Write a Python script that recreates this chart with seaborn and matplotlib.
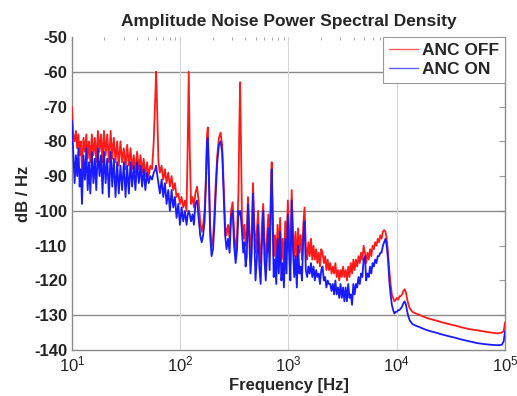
import numpy as np
import pandas as pd
import matplotlib
matplotlib.use("Agg")
import matplotlib.pyplot as plt
import seaborn as sns
from matplotlib.ticker import LogLocator, FixedLocator

# Frequency grid shared by both measurements (Hz)
freq_hz = [
    10.0, 10.3, 10.6, 10.9, 11.2, 11.5, 11.8, 12.1, 12.4, 12.8,
    13.2, 13.6, 14.0, 14.4, 14.8, 15.3, 15.8, 16.3, 16.8, 17.4,
    18.0, 18.6, 19.2, 19.8, 20.5, 21.2, 22.0, 22.8, 23.6, 24.4,
    25.3, 26.2, 27.1, 28.1, 29.1, 30.2, 31.3, 32.4, 33.6, 34.8,
    36.0, 37.3, 38.6, 40.0, 41.5, 43.0, 44.5, 46.0, 47.7, 49.4,
    51.2, 53.0, 55.0, 57.0, 59.0, 60.0, 61.0, 63.0, 65.0, 67.4,
    69.8, 72.3, 74.9, 77.6, 80.4, 83.3, 86.3, 89.4, 92.6, 96.0,
    99.5, 103.0, 106.7, 110.5, 114.5, 117.5, 120.0, 122.5, 126.0, 130.0,
    134.0, 138.0, 143.0, 148.0, 153.0, 158.0, 163.0, 168.0, 173.0, 177.0,
    180.0, 184.0, 189.0, 195.0, 201.0, 207.0, 213.0, 220.0, 228.0, 236.0,
    244.0, 252.0, 260.0, 268.0, 277.0, 286.0, 295.0, 305.0, 315.0, 325.0,
    335.0, 345.0, 352.0, 358.0, 364.0, 372.0, 382.0, 392.0, 402.0, 412.0,
    423.0, 434.0, 446.0, 458.0, 470.0, 483.0, 496.0, 510.0, 524.0, 538.0,
    553.0, 568.0, 584.0, 600.0, 617.0, 634.0, 652.0, 670.0, 688.0, 700.0,
    712.0, 730.0, 750.0, 771.0, 792.0, 814.0, 837.0, 860.0, 884.0, 908.0,
    933.0, 959.0, 986.0, 1013, 1041, 1070, 1100, 1130, 1162, 1194,
    1227, 1261, 1296, 1332, 1369, 1407, 1446, 1486, 1527, 1569,
    1613, 1657, 1703, 1750, 1799, 1849, 1900, 1953, 2007, 2063,
    2120, 2178, 2238, 2300, 2364, 2430, 2497, 2566, 2637, 2710,
    2785, 2862, 2941, 3023, 3106, 3192, 3281, 3371, 3465, 3560,
    3659, 3760, 3864, 3971, 4081, 4194, 4310, 4429, 4552, 4678,
    4807, 4940, 5077, 5217, 5361, 5510, 5662, 5818, 5979, 6145,
    6315, 6489, 6669, 6853, 7043, 7237, 7438, 7643, 7855, 8072,
    8295, 8525, 8760, 9002, 9251, 9507, 9770, 10040, 10318, 10603,
    10896, 11197, 11507, 11825, 12152, 12488, 12833, 13188, 13553, 13928,
    15000, 16500, 18000, 20000, 23000, 26000, 30000, 35000, 40000, 47000,
    55000, 65000, 75000, 85000, 93000, 97000, 100000,
]

# Amplitude noise PSD with active noise cancellation switched off (dB/Hz)
psd_anc_off = [
    -70, -78, -80, -77, -82, -78, -84, -80, -88, -79,
    -83, -78, -85, -80, -86, -78, -84, -79, -86, -77,
    -83, -78, -86, -77, -84, -78, -86, -77, -85, -79,
    -86, -80, -87, -80, -86, -82, -88, -81, -87, -82,
    -88, -84, -89, -83, -88, -84, -89, -85, -90, -86,
    -90, -87, -88, -80, -66, -60, -68, -86, -89, -87,
    -91, -88, -92, -89, -93, -90, -94, -92, -96, -95,
    -98, -96, -99, -97, -100, -80, -60, -82, -98, -96,
    -99, -95, -93, -97, -103, -106, -104, -100, -90, -78,
    -76, -88, -104, -110, -108, -101, -92, -84, -79, -77.5,
    -81, -92, -104, -107, -104, -108, -100, -97.5, -106, -112,
    -107, -95, -75, -63, -80, -102, -108, -104, -110, -106,
    -96, -104, -113, -106, -92, -103, -112, -106, -100, -110,
    -115, -104, -98, -108, -116, -107, -101, -112, -94, -86,
    -97, -113, -107, -116, -104, -112, -102, -114, -108, -117,
    -103, -111, -97, -106, -115, -94, -105, -113, -106, -116,
    -105, -112, -107, -114, -104, -99, -110, -114, -109, -113,
    -108, -114, -110, -114, -111, -115, -112, -116, -111, -112,
    -115, -113, -117, -114, -117, -115, -118, -116, -118, -115,
    -119, -117, -120, -117, -119, -116, -119, -117, -120, -116,
    -119, -115, -118, -114, -117, -114, -116, -113, -115, -112,
    -114, -110, -112, -115, -112, -114, -111, -113, -110, -111,
    -109, -110, -108, -109, -107, -108, -106, -105.5, -106, -108,
    -112, -117, -121, -124, -125, -126, -125.5, -125, -125.5, -124.5,
    -124.5, -124, -123, -122.5, -123.5, -125.5, -127, -128, -128.5, -129,
    -129.5, -130, -130.5, -131, -131.5, -132, -132.5, -133, -133.5, -134,
    -134.3, -134.7, -135, -135.2, -135, -134.5, -132,
]

# Amplitude noise PSD with active noise cancellation switched on (dB/Hz)
psd_anc_on = [
    -74, -83, -92, -84, -90, -82, -93, -88, -98, -84,
    -91, -82, -94, -86, -95, -83, -92, -85, -94, -82,
    -90, -84, -95, -83, -92, -85, -96, -83, -93, -85,
    -96, -86, -95, -87, -94, -86, -96, -87, -95, -86,
    -93, -87, -94, -86, -92, -87, -93, -88, -94, -89,
    -92, -90, -91, -89, -88, -87, -89, -92, -95, -91,
    -96, -92, -98, -94, -100, -94, -99, -96, -102, -98,
    -104, -99, -103, -100, -104, -101, -100, -101, -103, -101,
    -104, -98, -97, -102, -107, -109, -107, -103, -92, -80,
    -79, -90, -107, -113, -111, -104, -95, -86, -81, -80,
    -83, -95, -107, -111, -108, -112, -102, -100, -110, -115,
    -111, -100, -101, -100, -102, -106, -112, -109, -116, -113,
    -98, -108, -118, -112, -95, -107, -120, -114, -104, -116,
    -121, -110, -100, -114, -120, -112, -105, -117, -97, -88,
    -101, -119, -114, -121, -108, -118, -106, -120, -115, -122,
    -108, -118, -101, -112, -120, -97, -111, -119, -113, -122,
    -110, -118, -116, -120, -108, -103, -117, -119, -116, -118,
    -115, -119, -116, -120, -117, -119, -118, -121, -117, -116,
    -120, -119, -122, -120, -121, -121, -123, -121, -124, -120,
    -124, -122, -125, -121, -125, -122, -126, -122, -126, -121,
    -125, -124, -127, -121, -124, -121, -122, -119, -121, -118,
    -119, -114, -113, -120, -118, -119, -116, -118, -115, -116,
    -114, -115, -113, -113, -112, -112, -110, -109, -108, -110,
    -114, -120, -124, -127, -128.5, -129.5, -129, -129, -128.5, -128.5,
    -128, -127.5, -126.5, -126, -127, -129, -130.5, -131.5, -132, -132.5,
    -133, -133.5, -134, -134.5, -135, -135.5, -136, -136.5, -137, -137.5,
    -138, -138.3, -138.5, -138.6, -138.5, -137.5, -134.5,
]

series_labels = ["ANC OFF", "ANC ON"]
series_colors = ["#ff1a1a", "#1a1aff"]
y_ticks = [-50, -60, -70, -80, -90, -100, -110, -120, -130, -140]
reference_levels = [-60, -100, -130]
decade_marks = [1e2, 1e3, 1e4]

df = pd.concat([
    pd.DataFrame({"freq": freq_hz, "psd": psd_anc_off, "state": series_labels[0]}),
    pd.DataFrame({"freq": freq_hz, "psd": psd_anc_on, "state": series_labels[1]}),
], ignore_index=True)

sns.set_style("white")
plt.rcParams["font.family"] = ["Liberation Sans", "DejaVu Sans"]
plt.rcParams["mathtext.fontset"] = "custom"
plt.rcParams["mathtext.rm"] = "Liberation Sans"
plt.rcParams["axes.unicode_minus"] = False

fig = plt.figure(figsize=(5.17, 3.96), dpi=100)
ax = fig.add_axes([0.139, 0.116, 0.838, 0.7906])

# Reference lines
for yv in reference_levels:
    ax.axhline(yv, color="#8a8a8a", lw=1.0, zorder=1)
for xv in decade_marks:
    ax.axvline(xv, color="#d6d6d6", lw=0.8, zorder=1)

sns.lineplot(data=df, x="freq", y="psd", hue="state", palette=series_colors,
             hue_order=series_labels, estimator=None, sort=False,
             lw=1.3, ax=ax, zorder=3)

ax.set_xscale("log")
ax.set_xlim(10, 1e5)
ax.set_ylim(-140, -50)
ax.yaxis.set_major_locator(FixedLocator(y_ticks))
ax.xaxis.set_major_locator(LogLocator(base=10, numticks=10))
ax.xaxis.set_minor_locator(LogLocator(base=10, subs=np.arange(2, 10), numticks=20))

ax.tick_params(axis="both", which="both", direction="in", top=True, right=True,
               colors="#9a9a9a", labelcolor="#222222", labelsize=12)
ax.tick_params(axis="both", which="major", length=4, width=0.8)
ax.tick_params(axis="x", which="minor", length=2.5, width=0.6)
for lab in ax.get_yticklabels():
    lab.set_fontweight("bold")

for side in ["left", "bottom", "right"]:
    ax.spines[side].set_color("#8a8a8a")
    ax.spines[side].set_linewidth(1.0)
ax.spines["top"].set_visible(False)

ax.set_title("Amplitude Noise Power Spectral Density", fontsize=12.5,
             fontweight="bold", pad=8)
ax.set_xlabel("Frequency [Hz]", fontsize=12, fontweight="bold", labelpad=2)
ax.set_ylabel("dB / Hz", fontsize=12, fontweight="bold", labelpad=2)

handles, labels = ax.get_legend_handles_labels()
leg = ax.legend(handles, labels, loc="upper right", frameon=True, fancybox=False,
                framealpha=1.0, edgecolor="#9a9a9a", borderaxespad=0.0,
                handlelength=1.7, handletextpad=0.2, borderpad=0.35,
                labelspacing=0.2, prop={"weight": "bold", "size": 12.5})
leg.get_frame().set_linewidth(0.8)
for line in leg.get_lines():
    line.set_linewidth(1.0)
    line.set_alpha(0.7)
leg.set_zorder(5)

fig.savefig("out.png", dpi=100)
